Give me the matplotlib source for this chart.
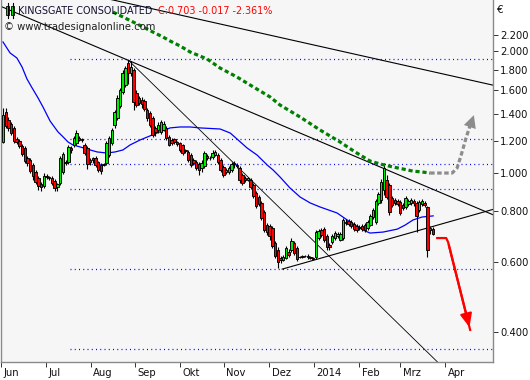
import matplotlib
matplotlib.use('Agg')
import matplotlib.pyplot as plt
from matplotlib.patches import Rectangle
from matplotlib.ticker import FixedLocator, FixedFormatter, NullLocator
import matplotlib.transforms as mtransforms

# ---------------- data (prices in EUR, bar index = trading bar) ----------------
opens = [1.191, 1.414, 1.351, 1.321, 1.291, 1.212, 1.198, 1.164, 1.151, 1.086,
         1.074, 1.044, 1.003, 0.969, 0.936, 0.926, 0.980, 0.975, 0.969, 0.953,
         0.920, 0.942, 1.003, 1.062, 1.062, 1.151, 1.171, 1.185, 1.219, 1.212,
         1.171, 1.151, 1.074, 1.086, 1.086, 1.062, 1.044, 1.050, 1.056, 1.105,
         1.185, 1.313, 1.367, 1.464, 1.586, 1.651, 1.873, 1.768, 1.799, 1.577,
         1.532, 1.515, 1.506, 1.430, 1.406, 1.367, 1.291, 1.276, 1.262, 1.276,
         1.291, 1.226, 1.205, 1.212, 1.191, 1.185, 1.171, 1.138, 1.125, 1.105,
         1.074, 1.062, 1.050, 1.026, 1.038, 1.099, 1.086, 1.093, 1.105, 1.105,
         1.074, 1.032, 1.003, 1.003, 1.014, 1.050, 1.044, 1.026, 0.986, 0.969,
         0.958, 0.958, 0.931, 0.889, 0.869, 0.840, 0.798, 0.740, 0.736, 0.728,
         0.668, 0.642, 0.613, 0.606, 0.613, 0.634, 0.642, 0.668, 0.649, 0.616,
         0.620, 0.620, 0.620, 0.616, 0.613, 0.616, 0.687, 0.719, 0.723, 0.695,
         0.660, 0.671, 0.687, 0.695, 0.679, 0.687, 0.753, 0.758, 0.753, 0.745,
         0.736, 0.728, 0.736, 0.740, 0.728, 0.740, 0.775, 0.753, 0.840, 0.854,
         0.905, 0.958, 0.931, 0.864, 0.854, 0.849, 0.844, 0.830, 0.821, 0.835,
         0.840, 0.849, 0.840, 0.807, 0.835, 0.840, 0.821, 0.728, 0.723]
closes = [1.390, 1.306, 1.291, 1.254, 1.198, 1.191, 1.164, 1.112, 1.068, 1.056,
          1.008, 0.980, 0.947, 0.926, 0.920, 0.980, 0.975, 0.969, 0.942, 0.915,
          0.936, 1.086, 1.112, 1.056, 1.158, 1.138, 1.219, 1.254, 1.205, 1.205,
          1.118, 1.050, 1.062, 1.074, 1.044, 1.014, 1.008, 1.044, 1.185, 1.219,
          1.276, 1.414, 1.532, 1.604, 1.768, 1.820, 1.768, 1.830, 1.498, 1.472,
          1.489, 1.481, 1.438, 1.367, 1.313, 1.240, 1.262, 1.313, 1.336, 1.321,
          1.219, 1.171, 1.185, 1.191, 1.178, 1.138, 1.118, 1.131, 1.074, 1.044,
          1.056, 1.026, 1.014, 1.056, 1.118, 1.086, 1.086, 1.118, 1.125, 1.062,
          1.014, 0.986, 1.014, 1.026, 1.050, 1.056, 1.038, 0.958, 0.942, 0.958,
          0.969, 0.920, 0.874, 0.825, 0.835, 0.771, 0.719, 0.711, 0.695, 0.656,
          0.620, 0.599, 0.606, 0.616, 0.649, 0.623, 0.675, 0.631, 0.609, 0.616,
          0.616, 0.620, 0.616, 0.613, 0.609, 0.711, 0.715, 0.699, 0.679, 0.653,
          0.653, 0.695, 0.707, 0.703, 0.703, 0.762, 0.749, 0.745, 0.736, 0.723,
          0.719, 0.732, 0.723, 0.719, 0.753, 0.780, 0.807, 0.849, 0.884, 0.947,
          1.026, 0.869, 0.798, 0.830, 0.840, 0.835, 0.793, 0.816, 0.864, 0.849,
          0.854, 0.840, 0.780, 0.844, 0.849, 0.830, 0.642, 0.720, 0.703]
highs = [1.447, 1.447, 1.374, 1.336, 1.306, 1.226, 1.212, 1.178, 1.164, 1.099,
         1.086, 1.056, 1.014, 0.980, 0.947, 0.997, 0.991, 0.980, 0.980, 0.964,
         0.942, 1.099, 1.125, 1.074, 1.171, 1.164, 1.233, 1.276, 1.233, 1.219,
         1.185, 1.164, 1.086, 1.093, 1.099, 1.068, 1.056, 1.056, 1.198, 1.233,
         1.291, 1.430, 1.559, 1.623, 1.799, 1.841, 1.905, 1.894, 1.820, 1.604,
         1.550, 1.541, 1.524, 1.447, 1.422, 1.382, 1.306, 1.336, 1.351, 1.343,
         1.306, 1.240, 1.219, 1.219, 1.198, 1.191, 1.178, 1.145, 1.138, 1.118,
         1.086, 1.074, 1.062, 1.074, 1.131, 1.112, 1.099, 1.138, 1.138, 1.118,
         1.086, 1.044, 1.026, 1.038, 1.062, 1.068, 1.056, 1.038, 0.997, 0.980,
         0.975, 0.969, 0.942, 0.900, 0.879, 0.849, 0.807, 0.749, 0.745, 0.736,
         0.675, 0.653, 0.620, 0.623, 0.656, 0.645, 0.687, 0.675, 0.656, 0.620,
         0.623, 0.623, 0.627, 0.620, 0.616, 0.719, 0.723, 0.728, 0.732, 0.703,
         0.668, 0.703, 0.715, 0.711, 0.711, 0.771, 0.766, 0.766, 0.762, 0.753,
         0.745, 0.740, 0.745, 0.749, 0.762, 0.789, 0.816, 0.859, 0.894, 0.964,
         1.056, 0.986, 0.942, 0.874, 0.864, 0.859, 0.854, 0.840, 0.874, 0.859,
         0.864, 0.859, 0.849, 0.854, 0.859, 0.849, 0.825, 0.736, 0.732]
lows = [1.185, 1.291, 1.269, 1.240, 1.185, 1.178, 1.151, 1.099, 1.056, 1.038,
        0.997, 0.958, 0.936, 0.905, 0.900, 0.915, 0.964, 0.958, 0.931, 0.900,
        0.900, 0.931, 0.991, 1.044, 1.050, 1.118, 1.158, 1.171, 1.198, 1.191,
        1.105, 1.020, 1.044, 1.056, 1.032, 1.003, 0.991, 1.038, 1.044, 1.093,
        1.171, 1.291, 1.351, 1.447, 1.568, 1.633, 1.661, 1.738, 1.430, 1.455,
        1.472, 1.447, 1.422, 1.343, 1.298, 1.226, 1.233, 1.254, 1.247, 1.269,
        1.205, 1.164, 1.171, 1.178, 1.164, 1.125, 1.105, 1.118, 1.062, 1.032,
        1.044, 1.014, 0.986, 1.003, 1.026, 1.074, 1.074, 1.080, 1.099, 1.050,
        1.003, 0.975, 0.991, 0.991, 1.003, 1.026, 1.026, 0.942, 0.931, 0.947,
        0.953, 0.910, 0.864, 0.816, 0.825, 0.762, 0.711, 0.699, 0.679, 0.649,
        0.613, 0.579, 0.596, 0.603, 0.609, 0.616, 0.634, 0.623, 0.603, 0.613,
        0.613, 0.616, 0.609, 0.609, 0.606, 0.609, 0.679, 0.691, 0.671, 0.642,
        0.642, 0.664, 0.679, 0.687, 0.675, 0.679, 0.740, 0.736, 0.728, 0.715,
        0.711, 0.719, 0.715, 0.711, 0.719, 0.736, 0.766, 0.745, 0.830, 0.840,
        0.879, 0.859, 0.784, 0.821, 0.830, 0.825, 0.784, 0.807, 0.812, 0.825,
        0.830, 0.825, 0.711, 0.798, 0.825, 0.821, 0.616, 0.703, 0.699]

# short moving average (blue)
ma_short_idx = [0, 2.6, 5.1, 7.0, 8.8, 10.7, 12.9, 14.7, 17.3, 20.2, 22.1, 23.9, 25.7,
                28.3, 32.0, 34.6, 38.2, 41.2, 44.1, 46.7, 50.4, 54.0, 56.6, 61.4, 65.1,
                68.8, 72.4, 79.8, 83.5, 86.4, 89.7, 93.4, 97.1, 99.3, 101.8, 105.5,
                109.2, 112.9, 116.5, 122.8, 127.6, 132.4, 134.9, 139.7, 144.9, 147.8,
                150.7, 154.0, 158.1]
ma_short_val = [2.112, 1.983, 1.927, 1.830, 1.709, 1.623, 1.532, 1.455, 1.343, 1.262,
                1.226, 1.191, 1.171, 1.158, 1.138, 1.125, 1.118, 1.125, 1.138, 1.171,
                1.205, 1.233, 1.254, 1.291, 1.298, 1.298, 1.291, 1.283, 1.254, 1.205,
                1.151, 1.105, 1.044, 1.014, 0.975, 0.915, 0.869, 0.840, 0.821, 0.793,
                0.753, 0.719, 0.707, 0.711, 0.723, 0.740, 0.762, 0.775, 0.780]

# long moving average (green dotted)
ma_long_idx = [40.4, 44.1, 47.8, 51.5, 55.1, 58.8, 61.4, 65.1, 68.8, 75.0, 79.8,
               86.0, 90.8, 94.5, 98.2, 101.8, 109.2, 116.5, 123.9, 129.4, 134.9, 138.6,
               143.4, 147.1, 150.7, 154.0, 157.0]
ma_long_val = [2.507, 2.437, 2.368, 2.301, 2.236, 2.173, 2.124, 2.064, 1.994,
               1.916, 1.819, 1.728, 1.651, 1.595, 1.541, 1.472, 1.374, 1.276, 1.191,
               1.125, 1.068, 1.050, 1.032, 1.020, 1.008, 1.003, 0.997]

# projected scenarios
bull_idx = [157.0, 159.6, 165.1, 166.9, 168.4, 170.2, 172.1, 173.4]
bull_val = [0.997, 0.997, 0.997, 1.026, 1.105, 1.219, 1.336, 1.410]
bear_idx = [159.6, 162.9, 163.6, 171.7]
bear_val = [0.687, 0.687, 0.671, 0.406]

# trend lines (start index, start price, end index, end price)
trend_lines = [(-1.1, 2.595, 180.5, 0.783),
               (46.0, 1.905, 167.5, 0.300),
               (102.6, 0.575, 180.5, 0.811),
               (35.7, 2.731, 180.5, 1.647)]
trend_widths = [0.8, 0.6, 0.8, 0.8]

# horizontal support / resistance levels
levels = [1.916, 1.212, 1.050, 0.910, 0.575, 0.364]
levels_start = 24.6

month_pos = [-0.6, 15.7, 32.2, 48.5, 65.1, 81.2, 97.8, 114.2, 130.9, 146.0, 162.5]
month_lbl = ['Jun', 'Jul', 'Aug', 'Sep', 'Okt', 'Nov', 'Dez', '2014', 'Feb', 'Mrz', 'Apr']
price_ticks = [2.2, 2.0, 1.8, 1.6, 1.4, 1.2, 1.0, 0.8, 0.6, 0.4]

# ---------------- figure ----------------
W, H = 530, 380
fig = plt.figure(figsize=(W / 100, H / 100), dpi=100, facecolor='white')
ax = fig.add_axes([1 / W, 18 / H, 492 / W, 362 / H])
ax.set_facecolor('#f6f6f6')
ax.set_yscale('log')
ax.set_xlim(-0.74, 180.1)
ax.set_ylim(0.3378, 2.686)

# levels
for lv in levels:
    ax.plot([levels_start, 180.1], [lv, lv], color='#0000ff', lw=0.9,
            linestyle=(0, (0.8, 2.6)), zorder=1)

# trend lines
for (x0, y0, x1, y1), w in zip(trend_lines, trend_widths):
    ax.plot([x0, x1], [y0, y1], color='black', lw=w, zorder=2)

# blue MA
ax.plot(ma_short_idx, ma_short_val, color='#0000ff', lw=0.9, zorder=3)

# candles
n = len(closes)
for i in range(n):
    o, h, l, c = opens[i], highs[i], lows[i], closes[i]
    ax.plot([i, i], [l, h], color='black', lw=0.8, zorder=4, solid_capstyle='butt')
    up = c >= o
    col = '#00ee00' if up else '#ff0000'
    lo_b, hi_b = min(o, c), max(o, c)
    ax.bar(i, hi_b - lo_b, bottom=lo_b, width=0.9, color=col,
           edgecolor='black', linewidth=0.65, zorder=5)

# green long MA dotted
ax.plot(ma_long_idx, ma_long_val, color='#008000', lw=2.3,
        linestyle=(0, (1.3, 0.9)), zorder=6)

# bullish projection (grey dashed with arrow)
ax.plot(bull_idx[:-1], bull_val[:-1], color='#8c8c8c', lw=2.3,
        linestyle=(0, (1.4, 0.8)), zorder=6)
ax.annotate('', xy=(bull_idx[-1], bull_val[-1]), xytext=(bull_idx[-3], bull_val[-3]),
            arrowprops=dict(arrowstyle='-|>,head_length=0.9,head_width=0.45',
                            color='#8c8c8c', lw=0.01, mutation_scale=10), zorder=7)

# bearish projection (red arrow)
ax.plot(bear_idx, bear_val, color='#ff0000', lw=1.6, zorder=6)
ax.annotate('', xy=(bear_idx[-1], bear_val[-1]), xytext=(bear_idx[-2], bear_val[-2]),
            arrowprops=dict(arrowstyle='-|>,head_length=0.8,head_width=0.35',
                            color='#ff0000', lw=1.6, mutation_scale=10), zorder=7)

# axes styling
for s in ['left', 'bottom', 'right']:
    ax.spines[s].set_color('#8a8a8a')
    ax.spines[s].set_linewidth(1.0)
ax.spines['top'].set_visible(False)

ax.yaxis.tick_right()
ax.yaxis.set_major_locator(FixedLocator(price_ticks))
ax.yaxis.set_major_formatter(FixedFormatter(['%.3f' % t for t in price_ticks]))
ax.yaxis.set_minor_locator(NullLocator())
ax.tick_params(axis='y', direction='out', length=3.5, width=0.7, color='#333333',
               labelsize=7.2, pad=1.5, labelcolor='#111111')

ax.xaxis.set_major_locator(FixedLocator(month_pos))
ax.xaxis.set_major_formatter(FixedFormatter(month_lbl))
ax.xaxis.set_minor_locator(NullLocator())
ax.tick_params(axis='x', direction='out', length=3.5, width=0.7, color='#333333',
               labelsize=7.2, pad=1.0, labelcolor='#111111')
offset = mtransforms.ScaledTranslation(2.5 / 100, 0, fig.dpi_scale_trans)
for lab in ax.get_xticklabels():
    lab.set_horizontalalignment('left')
    lab.set_transform(lab.get_transform() + offset)

# header texts
last = closes[-1]
chg = closes[-1] - closes[-2]
pct = chg / closes[-2] * 100
fig.text(18 / W, 1 - 10.5 / H, 'KINGSGATE CONSOLIDATED', color='#101030',
         fontsize=6.95, va='center', ha='left', family='DejaVu Sans')
fig.text(158 / W, 1 - 10.5 / H, 'C:%.3f %.3f %.3f%%' % (last, chg, pct), color='#ff0000',
         fontsize=6.9, va='center', ha='left', family='DejaVu Sans')
fig.text(4 / W, 1 - 26.5 / H, '\u00a9 www.tradesignalonline.com', color='#202020',
         fontsize=7.2, va='center', ha='left', family='DejaVu Sans')
fig.text(497 / W, 1 - 10 / H, '\u20ac', color='#111111', fontsize=7.5,
         va='center', ha='left')

# small candle icon
for x0 in (6, 11):
    fig.add_artist(plt.Line2D([(x0 + 1.5) / W, (x0 + 1.5) / W], [1 - 3 / H, 1 - 18 / H],
                              color='black', lw=0.8, transform=fig.transFigure))
    fig.add_artist(Rectangle((x0 / W, 1 - 15 / H), 3 / W, 9 / H, facecolor='#00ee00',
                             edgecolor='black', lw=0.6, transform=fig.transFigure))

fig.savefig('out.png', dpi=100, facecolor='white')
